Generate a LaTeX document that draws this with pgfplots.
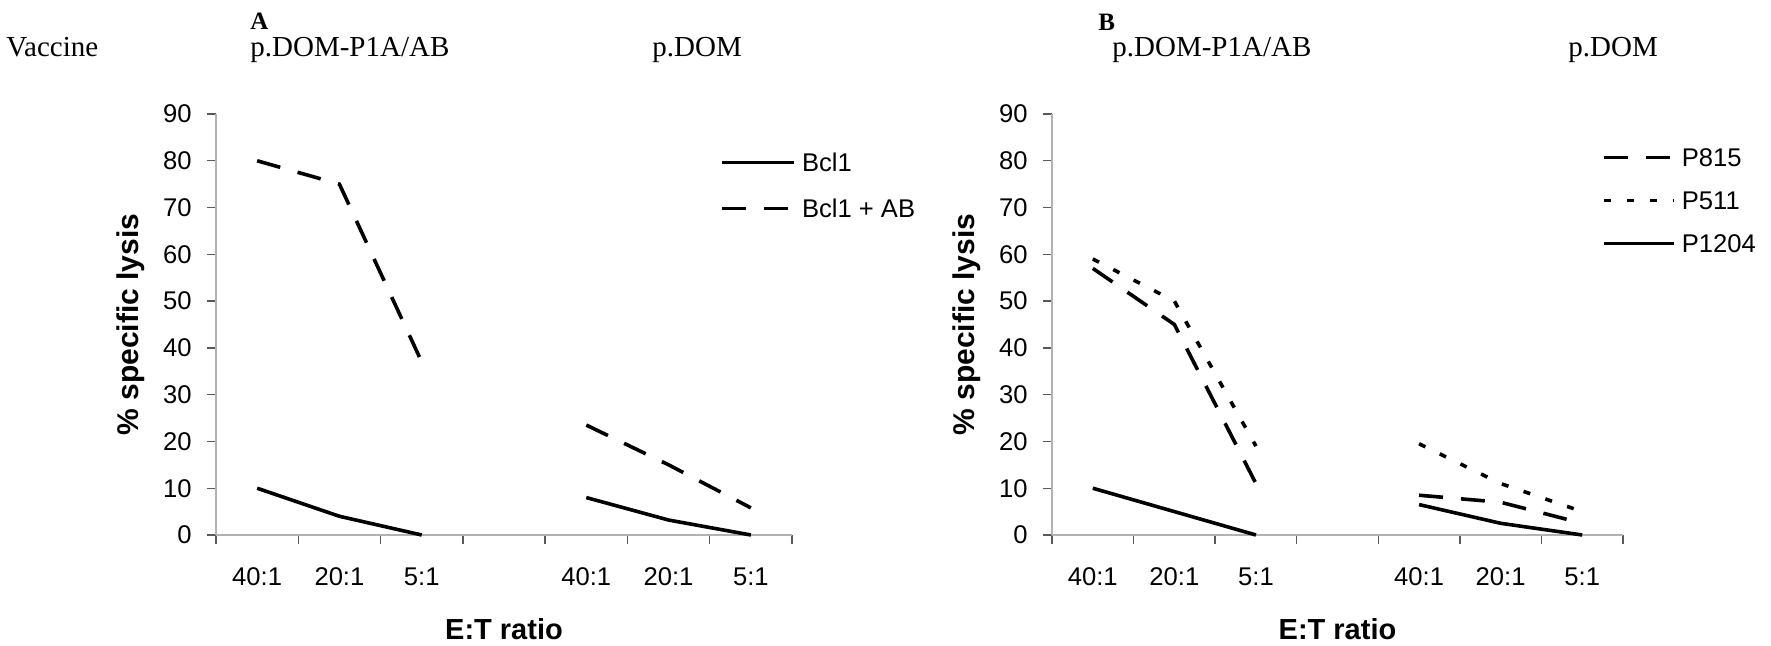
\documentclass[border=0pt]{standalone}
\usepackage{fontspec}
\setmainfont{Liberation Sans}
\newfontfamily\tnr{Liberation Serif}
\usepackage{pgfplots}
\pgfplotsset{compat=1.18}

\pgfplotsset{
  myaxis/.style={
    scale only axis,
    height=210.5pt,
    xmin=-0.5, xmax=6.5, ymin=0, ymax=90,
    clip=false,
    unbounded coords=jump,
    axis lines=left,
    axis line style={-, draw=gray!60, line width=0.9pt},
    tick align=outside,
    xtick={0,...,6},
    xticklabels={40:1,20:1,5:1,,40:1,20:1,5:1},
    minor xtick={-0.5,0.5,...,6.5},
    major x tick style={draw=none},
    minor x tick style={draw=gray!70!black, line width=0.7pt},
    ytick={0,10,...,90},
    ytick style={draw=gray!70!black, line width=0.7pt},
    major tick length=4.5pt, minor tick length=4.5pt,
    /pgf/number format/assume math mode=true,
    yticklabel style={font=\fontsize{12.8}{14}\selectfont, inner sep=0pt, anchor=east, xshift=-7.5pt},
    xticklabel style={font=\fontsize{12.8}{14}\selectfont, inner sep=0pt, anchor=north, yshift=-11.5pt},
    every axis x label/.style={at={(axis description cs:0.5,0)}, anchor=center, yshift=-47pt,
      font=\bfseries\fontsize{14.5}{16}\selectfont},
    every axis y label/.style={at={(axis description cs:0,0.5)}, anchor=center, rotate=90, yshift=42.5pt,
      font=\bfseries\fontsize{15}{17}\selectfont},
    xlabel={E:T ratio},
    ylabel={\% specific lysis},
    legend cell align=left,
    legend style={draw=none, fill=none, inner sep=0pt, anchor=north west,
      nodes={inner sep=0pt, text height=9.2pt, text depth=0pt, font=\fontsize{12.8}{14}\selectfont},
      column sep=3pt},
  },
  dline/.style={black, line width=1.8pt, dash pattern=on 12pt off 9pt},
  sline/.style={black, line width=1.8pt, solid},
  pline/.style={black, line width=1.8pt, dash pattern=on 3.5pt off 8pt},
}

\begin{document}
\begin{tikzpicture}
\path[use as bounding box] (0,0) rectangle (885.5pt,323pt);
% panel letters and group titles
\node[font=\tnr\bfseries\fontsize{12.5}{14}\selectfont, anchor=base west, inner sep=0pt] at (125pt,308pt) {A};
\node[font=\tnr\bfseries\fontsize{12.5}{14}\selectfont, anchor=base west, inner sep=0pt] at (549pt,307.5pt) {B};
\node[font=\tnr\fontsize{14.5}{16}\selectfont, anchor=base west, inner sep=0pt] at (3pt,294.5pt) {Vaccine};
\node[font=\tnr\fontsize{14.5}{16}\selectfont, anchor=base west, inner sep=0pt] at (125pt,294.5pt) {p.DOM-P1A/AB};
\node[font=\tnr\fontsize{14.5}{16}\selectfont, anchor=base west, inner sep=0pt] at (326pt,294.5pt) {p.DOM};
\node[font=\tnr\fontsize{14.5}{16}\selectfont, anchor=base west, inner sep=0pt] at (556pt,294.5pt) {p.DOM-P1A/AB};
\node[font=\tnr\fontsize{14.5}{16}\selectfont, anchor=base west, inner sep=0pt] at (784pt,294.5pt) {p.DOM};

\begin{axis}[myaxis, at={(108pt,55.5pt)}, anchor=south west, width=288pt,
  legend image code/.code={\draw[#1] (0pt,0pt) -- (36pt,0pt);},
  legend style={at={(0.875,0.9078)}, row sep=13.8pt}]
\addplot[sline] coordinates {(0,10)(1,4)(2,0)(3,nan)(4,8)(5,3.2)(6,0)};
\addlegendentry{Bcl1}
\addplot[dline] coordinates {(0,80)(1,75)(2,37)(3,nan)(4,23.5)(5,15)(6,5.8)};
\addlegendentry{Bcl1 + AB}
\end{axis}

\begin{axis}[myaxis, at={(526pt,55.5pt)}, anchor=south west, width=285.5pt,
  legend image code/.code={\draw[#1] (0pt,0pt) -- (35pt,0pt);},
  legend style={at={(0.963,0.9197)}, row sep=12.3pt}]
\addplot[dline] coordinates {(0,57)(1,45)(2,11)(3,nan)(4,8.5)(5,7)(6,2.5)};
\addlegendentry{P815}
\addplot[pline] coordinates {(0,59)(1,50)(2,19)(3,nan)(4,19.5)(5,11)(6,5)};
\addlegendentry{P511}
\addplot[sline] coordinates {(0,10)(1,5)(2,0)(3,nan)(4,6.5)(5,2.5)(6,0)};
\addlegendentry{P1204}
\end{axis}
\end{tikzpicture}
\end{document}
